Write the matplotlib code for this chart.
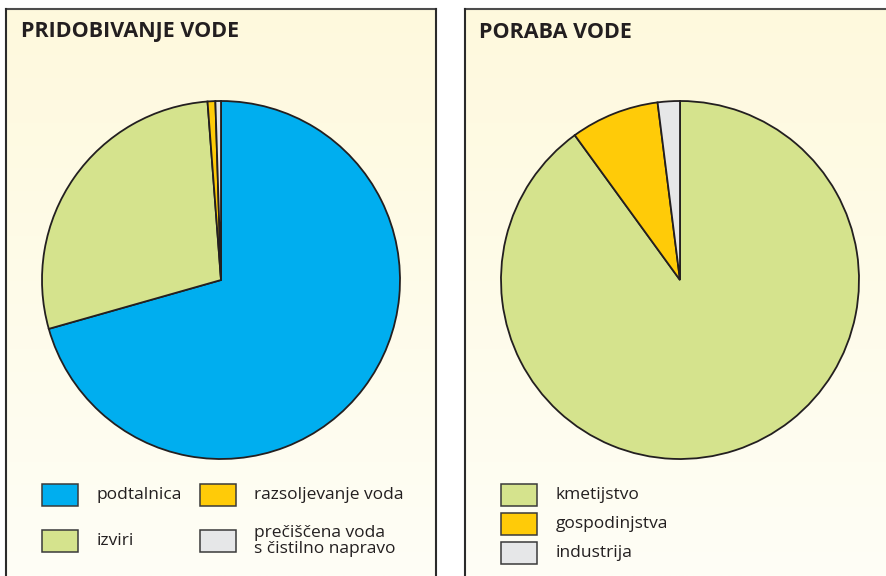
import matplotlib
matplotlib.use("Agg")
import matplotlib.pyplot as plt
import numpy as np
from matplotlib.patches import Rectangle
from matplotlib.lines import Line2D

plt.rcParams['font.family'] = ['Open Sans', 'DejaVu Sans']

# Data
left_title = "PRIDOBIVANJE VODE"
left_labels = ["podtalnica", "izviri", "razsoljevanje voda", "prečiščena voda\ns čistilno napravo"]
left_values = [70.6, 28.2, 0.7, 0.5]
right_title = "PORABA VODE"
right_labels = ["kmetijstvo", "gospodinjstva", "industrija"]
right_values = [90, 8, 2]

BLUE = "#00AEEF"
GREEN = "#D5E38D"
YELLOW = "#FFCB08"
GRAY = "#E6E7E8"
EDGE = "#231F20"
left_colors = [BLUE, GREEN, YELLOW, GRAY]
right_colors = [GREEN, YELLOW, GRAY]

W, H = 887, 576
fig = plt.figure(figsize=(W / 100, H / 100), dpi=100)
fig.patch.set_facecolor("white")

def fx(x):
    return x / W

def fy(y):
    return 1 - y / H

def add_panel(x0, x1, y0, right_border=True):
    ax = fig.add_axes([fx(x0), 0, fx(x1) - fx(x0), fy(y0)])
    grad = np.linspace(0, 1, 256)[:, None]
    top = np.array([254, 249, 221]) / 255
    bot = np.array([255, 254, 246]) / 255
    img = top[None, None, :] * (1 - grad[:, :, None]) + bot[None, None, :] * grad[:, :, None]
    ax.imshow(img, aspect="auto", extent=[0, 1, 0, 1], origin="upper")
    ax.set_xlim(0, 1)
    ax.set_ylim(0, 1)
    ax.axis("off")
    lw = 1.5
    fig.add_artist(Line2D([fx(x0), fx(x1)], [fy(y0), fy(y0)], color="#4d4d4d", lw=lw))
    fig.add_artist(Line2D([fx(x0), fx(x0)], [0, fy(y0)], color="#2b2b2b", lw=lw))
    if right_border:
        fig.add_artist(Line2D([fx(x1), fx(x1)], [0, fy(y0)], color="#2b2b2b", lw=lw))

add_panel(6, 436, 9, True)
add_panel(465, 900, 9, False)

def add_pie(cx, cy, r, values, colors):
    ax = fig.add_axes([fx(cx - r - 2), fy(cy + r + 2), (2 * r + 4) / W, (2 * r + 4) / H])
    ax.pie(values, colors=colors, startangle=90, counterclock=False,
           wedgeprops=dict(edgecolor=EDGE, linewidth=1.3))
    ax.set_xlim(-(r + 2) / r, (r + 2) / r)
    ax.set_ylim(-(r + 2) / r, (r + 2) / r)
    ax.set_aspect("equal")
    ax.axis("off")

add_pie(221, 280, 179, left_values, left_colors)
add_pie(680, 280, 179, right_values, right_colors)

fig.text(fx(21), fy(32), left_title, fontsize=15.5, fontweight="bold", color=EDGE, va="center", ha="left")
fig.text(fx(479), fy(32), right_title, fontsize=15.5, fontweight="bold", color=EDGE, va="center", ha="left")

def legend_box(x, y, color):
    fig.add_artist(Rectangle((fx(x), fy(y + 22)), 36 / W, 22 / H, facecolor=color,
                             edgecolor="#3a3a3a", linewidth=1.1, transform=fig.transFigure))

# Left legend
left_pos = [(42, 484, 97), (42, 530, 97), (200, 484, 254), (200, 530, 254)]
for (bx, by, tx), lab, col in zip(left_pos, left_labels, left_colors):
    legend_box(bx, by, col)
    fig.text(fx(tx), fy(by + 11), lab, fontsize=12.5, color=EDGE, va="center", ha="left",
             linespacing=1.0)

# Right legend
right_rows = [484, 513, 542]
for by, lab, col in zip(right_rows, right_labels, right_colors):
    legend_box(501, by, col)
    fig.text(fx(556), fy(by + 11), lab, fontsize=12.5, color=EDGE, va="center", ha="left")

fig.savefig("out.png", dpi=100)
